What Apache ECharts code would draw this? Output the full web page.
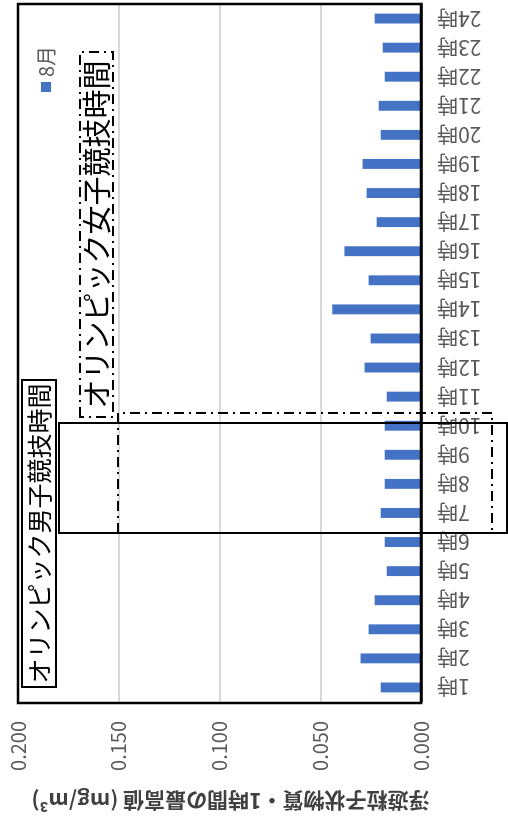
<!DOCTYPE html>
<html>
<head>
<meta charset="utf-8">
<script src="https://cdn.jsdelivr.net/npm/echarts@6/dist/echarts.min.js"></script>
<style>
html,body{margin:0;padding:0;background:#fff;overflow:hidden;}
#wrap{position:relative;width:508px;height:819px;overflow:hidden;}
#chart{position:absolute;left:0;top:0;width:819px;height:508px;transform-origin:0 0;transform:translateY(819px) rotate(-90deg);}
</style>
</head>
<body>
<div id="wrap"><div id="chart"></div></div>
<script>
const categories = ['1時','2時','3時','4時','5時','6時','7時','8時','9時','10時','11時','12時','13時','14時','15時','16時','17時','18時','19時','20時','21時','22時','23時','24時'];
const augustValues = [0.020,0.030,0.026,0.023,0.017,0.018,0.020,0.018,0.018,0.018,0.017,0.028,0.025,0.044,0.026,0.038,0.022,0.027,0.029,0.020,0.021,0.018,0.019,0.023];
const seriesName = '8月';
const axisTitle = '浮遊粒子状物質・1時間の最高値 (mg/m³)';
const menLabel = 'オリンピック男子競技時間';
const womenLabel = 'オリンピック女子競技時間';

const FONT = '"Noto Sans CJK JP", "Noto Sans", sans-serif';
const chart = echarts.init(document.getElementById('chart'), null, {renderer:'canvas'});
const dashDot = [10,5,2,5];
chart.setOption({
  animation:false,
  backgroundColor:'#fff',
  textStyle:{fontFamily:FONT},
  grid:{left:116,right:4,top:18,bottom:87,show:false},
  legend:{
    data:[seriesName], left:722, top:31, itemWidth:10, itemHeight:10, icon:'rect',
    textStyle:{color:'#595959',fontSize:20,fontFamily:FONT}
  },
  xAxis:{
    type:'category', data:categories,
    axisLine:{show:true,lineStyle:{color:'#000',width:2.5}},
    axisTick:{show:false},
    axisLabel:{rotate:90,margin:16,color:'#595959',fontSize:21,fontFamily:FONT,interval:0}
  },
  yAxis:{
    type:'value', min:0, max:0.2, interval:0.05,
    name:axisTitle, nameLocation:'middle', nameGap:88, nameRotate:90,
    nameTextStyle:{color:'#404040',fontSize:21,fontWeight:'bold',fontFamily:FONT,padding:[0,22,0,0]},
    axisLine:{show:false}, axisTick:{show:false},
    axisLabel:{margin:19,color:'#595959',fontSize:20,fontFamily:FONT,formatter:v=>v.toFixed(3)},
    splitLine:{show:true,showMinLine:false,showMaxLine:false,lineStyle:{color:'#d9d9d9',width:2}}
  },
  series:[{
    name:seriesName, type:'bar', data:augustValues, barWidth:'34%',
    itemStyle:{color:'#4472C4'}
  }],
  graphic:[
    {type:'rect',z:50,silent:true,shape:{x:116,y:18,width:699,height:403},style:{fill:'none',stroke:'#000',lineWidth:2.5}},
    {type:'rect',z:60,silent:true,shape:{x:286,y:59,width:110,height:448},style:{fill:'none',stroke:'#000',lineWidth:2}},
    {type:'rect',z:60,silent:true,shape:{x:286,y:118,width:120,height:374},style:{fill:'none',stroke:'#000',lineWidth:2,lineDash:dashDot}},
    {type:'rect',z:60,silent:true,shape:{x:132,y:22,width:307,height:34},style:{fill:'#fff',stroke:'#000',lineWidth:2}},
    {type:'text',z:61,silent:true,x:285.5,y:39,style:{text:menLabel,fill:'#000',font:'25px '+FONT,textAlign:'center',textVerticalAlign:'middle'}},
    {type:'rect',z:60,silent:true,shape:{x:402,y:80,width:365,height:33},style:{fill:'#fff',stroke:'#000',lineWidth:2,lineDash:dashDot}},
    {type:'text',z:61,silent:true,x:584.5,y:97,style:{text:womenLabel,fill:'#000',font:'29px '+FONT,textAlign:'center',textVerticalAlign:'middle'}}
  ]
});
</script>
</body>
</html>
